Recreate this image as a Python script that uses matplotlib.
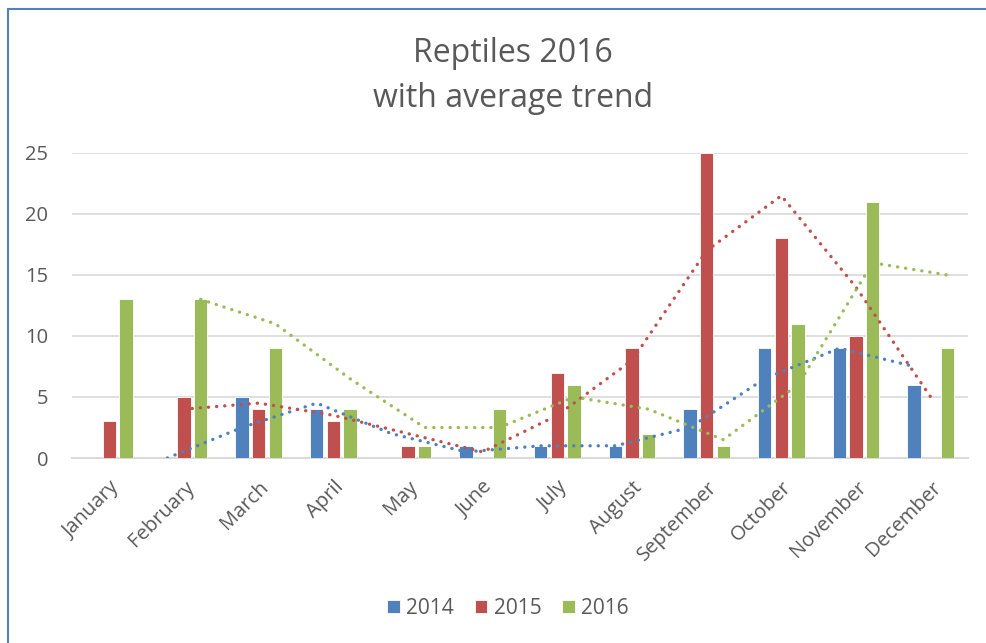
import matplotlib
matplotlib.use("Agg")
import matplotlib.pyplot as plt
from matplotlib.patches import Rectangle
import numpy as np
import pandas as pd

months = ["January", "February", "March", "April", "May", "June", "July",
          "August", "September", "October", "November", "December"]
series_names = ["2014", "2015", "2016"]
v2014 = [0, 0, 5, 4, 0, 1, 1, 1, 4, 9, 9, 6]
v2015 = [3, 5, 4, 3, 1, 0, 7, 9, 25, 18, 10, 0]
v2016 = [13, 13, 9, 4, 1, 4, 6, 2, 1, 11, 21, 9]
colors = ["#4F81BD", "#C0504D", "#9BBB59"]
yticks = [0, 5, 10, 15, 20, 25]

plt.rcParams['font.family'] = ['Open Sans', 'DejaVu Sans']
text_color = "#595959"

fig = plt.figure(figsize=(9.86, 6.43), dpi=100)
ax = fig.add_axes([72/986, 1-458/643, (968-72)/986, (458-153)/643])

x = np.arange(len(months))
step = 0.223
width = 0.175
for i, (name, vals, c) in enumerate(zip(series_names, [v2014, v2015, v2016], colors)):
    off = (i - 1) * step
    ax.bar(x + off, vals, width=width, color=c, edgecolor="#ffffff", linewidth=0.6,
           label=name, zorder=2)
    trend = pd.Series(vals, dtype=float).rolling(2).mean()
    ax.plot(x + off, trend.values, color=c, linewidth=2.4,
            linestyle=(0, (0.05, 2.4)), dash_capstyle='round', zorder=3)

ax.set_xlim(-0.5, len(months) - 0.5)
ax.set_ylim(0, 25)
ax.set_yticks(yticks)
ax.set_yticklabels([str(t) for t in yticks], fontsize=14.5, color=text_color)
ax.set_xticks(x)
ax.set_xticklabels(months, rotation=45, ha='right', rotation_mode='anchor',
                   fontsize=14.5, color=text_color)
ax.tick_params(axis='both', length=0)
ax.tick_params(axis='y', pad=17)
ax.tick_params(axis='x', pad=14)
ax.yaxis.grid(True, color="#D9D9D9", linewidth=1.2, zorder=0)
ax.set_axisbelow(True)
for s in ["top", "right", "left"]:
    ax.spines[s].set_visible(False)
ax.spines["bottom"].set_color("#D9D9D9")
ax.spines["bottom"].set_linewidth(1.5)
ax.spines["bottom"].set_zorder(1)

fig.text(513/986, 1-76/643, "Reptiles 2016\nwith average trend", ha='center', va='center',
         fontsize=23, color=text_color, linespacing=1.45)

handles, labels = ax.get_legend_handles_labels()
leg = fig.legend(handles, labels, loc='center', bbox_to_anchor=(508/986, 1-608/643),
                 ncol=3, frameon=False, fontsize=15, handlelength=0.6, handleheight=0.6,
                 handletextpad=0.3, columnspacing=1.0, labelcolor=text_color)

fig.patches.append(Rectangle((8/986, -0.1), 1.2, (1-9/643) + 0.1, transform=fig.transFigure,
                             fill=False, edgecolor="#4F81BD", linewidth=1.5))

fig.savefig("out.png", dpi=100)
